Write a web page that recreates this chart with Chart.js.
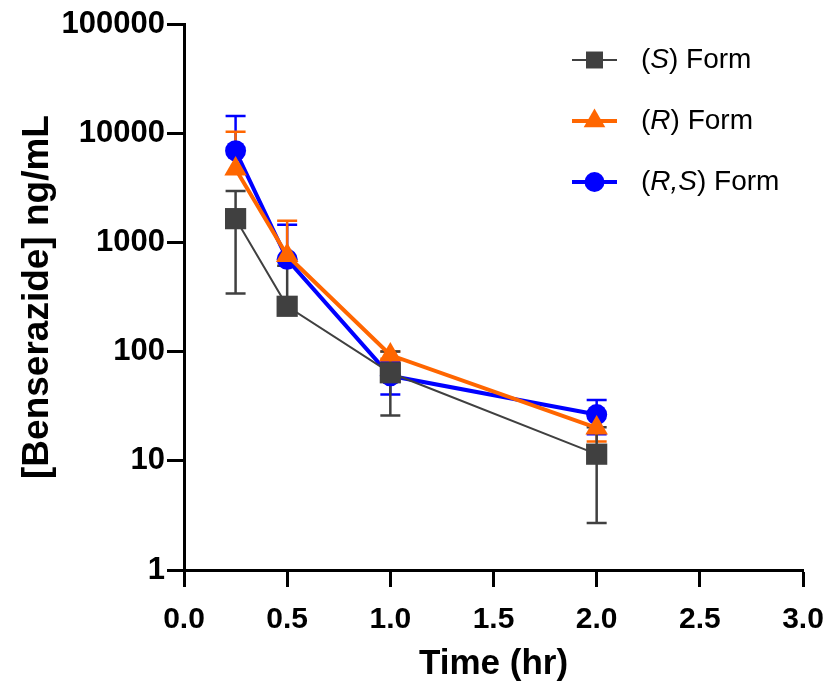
<!DOCTYPE html>
<html>
<head>
<meta charset="utf-8">
<script src="https://cdn.jsdelivr.net/npm/chart.js@4/dist/chart.umd.min.js"></script>
<style>
  html, body { margin: 0; padding: 0; background: #fff; }
  canvas { display: block; }
</style>
</head>
<body>
<canvas id="pkChart" width="827" height="685"></canvas>
<script>
// Sampling times (hr)
const times = [0.25, 0.5, 1.0, 2.0];

// Mean concentrations (ng/mL) with error bar ends
const sForm = [1650, 260, 64, 11.5];
const sUpper = [2950, 610, 100, 20.3];
const sLower = [340, null, 26, 2.7];

const rForm = [4700, 760, 93, 20];
const rUpper = [10300, 1580, 100, 26];
const rLower = [null, null, 86, 15];

const rsForm = [6900, 700, 60, 26.5];
const rsUpper = [14400, 1450, 80, 36];
const rsLower = [null, null, 40.5, 17.5];

const yTicks = [1, 10, 100, 1000, 10000, 100000];
const xTicks = [0, 0.5, 1.0, 1.5, 2.0, 2.5, 3.0];

const colors = {
    s: '#404040',
    r: '#FF6600',
    rs: '#0000FF'
};

const FONT = 'Arial, "Liberation Sans", Helvetica, sans-serif';

// error bars, drawn behind the markers
const errorBars = {
    id: 'errorBars',
    beforeDatasetsDraw(chart) {
        const { ctx, scales: { x, y } } = chart;
        const order = [2, 1, 0];
        order.forEach(i => {
            const ds = chart.data.datasets[i];
            ctx.save();
            ctx.strokeStyle = ds.borderColor;
            ctx.lineWidth = ds.errWidth;
            ds.data.forEach((p, j) => {
                const px = x.getPixelForValue(p.x);
                const py = y.getPixelForValue(p.y);
                [ds.upper[j], ds.lower[j]].forEach(v => {
                    if (v === null) return;
                    const ey = y.getPixelForValue(v);
                    ctx.beginPath();
                    ctx.moveTo(px, py);
                    ctx.lineTo(px, ey);
                    ctx.moveTo(px - 10, ey);
                    ctx.lineTo(px + 10, ey);
                    ctx.stroke();
                });
            });
            ctx.restore();
        });
    }
};

// legend with a line through each marker and italic stereo labels
const customLegend = {
    id: 'customLegend',
    afterDraw(chart) {
        const { ctx } = chart;
        const rows = [
            { ds: 0, y: 60, parts: [['(', ''], ['S', 'italic '], [') Form', '']] },
            { ds: 1, y: 121, parts: [['(', ''], ['R', 'italic '], [') Form', '']] },
            { ds: 2, y: 182, parts: [['(', ''], ['R,S', 'italic '], [') Form', '']] }
        ];
        rows.forEach(row => {
            const ds = chart.data.datasets[row.ds];
            ctx.save();
            ctx.strokeStyle = ds.borderColor;
            ctx.lineWidth = ds.borderWidth;
            ctx.beginPath();
            ctx.moveTo(572, row.y);
            ctx.lineTo(617, row.y);
            ctx.stroke();
            ctx.fillStyle = ds.borderColor;
            Chart.helpers.drawPoint(ctx, {
                pointStyle: ds.pointStyle,
                radius: ds.legendRadius,
                borderWidth: 0
            }, 594.5, row.y);
            ctx.fillStyle = '#000';
            ctx.textBaseline = 'middle';
            let tx = 641;
            row.parts.forEach(([txt, style]) => {
                ctx.font = style + '28px ' + FONT;
                ctx.fillText(txt, tx, row.y);
                tx += ctx.measureText(txt).width;
            });
            ctx.restore();
        });
    }
};

const toPoints = vals => vals.map((v, i) => ({ x: times[i], y: v }));

new Chart(document.getElementById('pkChart'), {
    type: 'line',
    data: {
        datasets: [
            {
                label: '(S) Form',
                data: toPoints(sForm),
                upper: sUpper,
                lower: sLower,
                borderColor: colors.s,
                backgroundColor: colors.s,
                borderWidth: 2,
                errWidth: 2.5,
                pointStyle: 'rect',
                pointRadius: 15,
                legendRadius: 12,
                pointBorderWidth: 0,
                order: 0
            },
            {
                label: '(R) Form',
                data: toPoints(rForm),
                upper: rUpper,
                lower: rLower,
                borderColor: colors.r,
                backgroundColor: colors.r,
                borderWidth: 4,
                errWidth: 2.5,
                pointStyle: 'triangle',
                pointRadius: 13,
                legendRadius: 12.5,
                pointBorderWidth: 0,
                order: 1
            },
            {
                label: '(R,S) Form',
                data: toPoints(rsForm),
                upper: rsUpper,
                lower: rsLower,
                borderColor: colors.rs,
                backgroundColor: colors.rs,
                borderWidth: 4,
                errWidth: 2.5,
                pointStyle: 'circle',
                pointRadius: 10.5,
                legendRadius: 10,
                pointBorderWidth: 0,
                order: 2
            }
        ]
    },
    options: {
        responsive: false,
        animation: false,
        layout: { padding: { top: 24, right: 24, bottom: 0, left: 0 } },
        plugins: {
            legend: { display: false },
            tooltip: { enabled: false }
        },
        scales: {
            x: {
                type: 'linear',
                min: 0,
                max: 3,
                afterBuildTicks: scale => { scale.ticks = xTicks.map(v => ({ value: v })); },
                afterFit: scale => {
                    scale.height = 115;
                    scale.paddingLeft = 0;
                    scale.paddingRight = 0;
                },
                border: { display: true, color: '#000', width: 3 },
                grid: { drawOnChartArea: false, tickLength: 17, tickWidth: 3, tickColor: '#000' },
                ticks: {
                    color: '#000',
                    padding: 15,
                    font: { family: FONT, size: 30, weight: 'bold' },
                    callback: v => Number(v).toFixed(1)
                },
                title: {
                    display: true,
                    text: 'Time (hr)',
                    color: '#000',
                    font: { family: FONT, size: 35, weight: 'bold' },
                    padding: { top: 0, bottom: 0 }
                }
            },
            y: {
                type: 'logarithmic',
                min: 1,
                max: 100000,
                afterBuildTicks: scale => { scale.ticks = yTicks.map(v => ({ value: v })); },
                afterFit: scale => { scale.width = 184; },
                border: { display: true, color: '#000', width: 3 },
                grid: { drawOnChartArea: false, tickLength: 17, tickWidth: 3, tickColor: '#000' },
                ticks: {
                    color: '#000',
                    padding: 2,
                    font: { family: FONT, size: 31, weight: 'bold' },
                    callback: v => String(v)
                },
                title: {
                    display: true,
                    text: '[Benserazide] ng/mL',
                    color: '#000',
                    font: { family: FONT, size: 37, weight: 'bold' },
                    padding: { top: 16, bottom: 0 }
                }
            }
        }
    },
    plugins: [errorBars, customLegend]
});
</script>
</body>
</html>
